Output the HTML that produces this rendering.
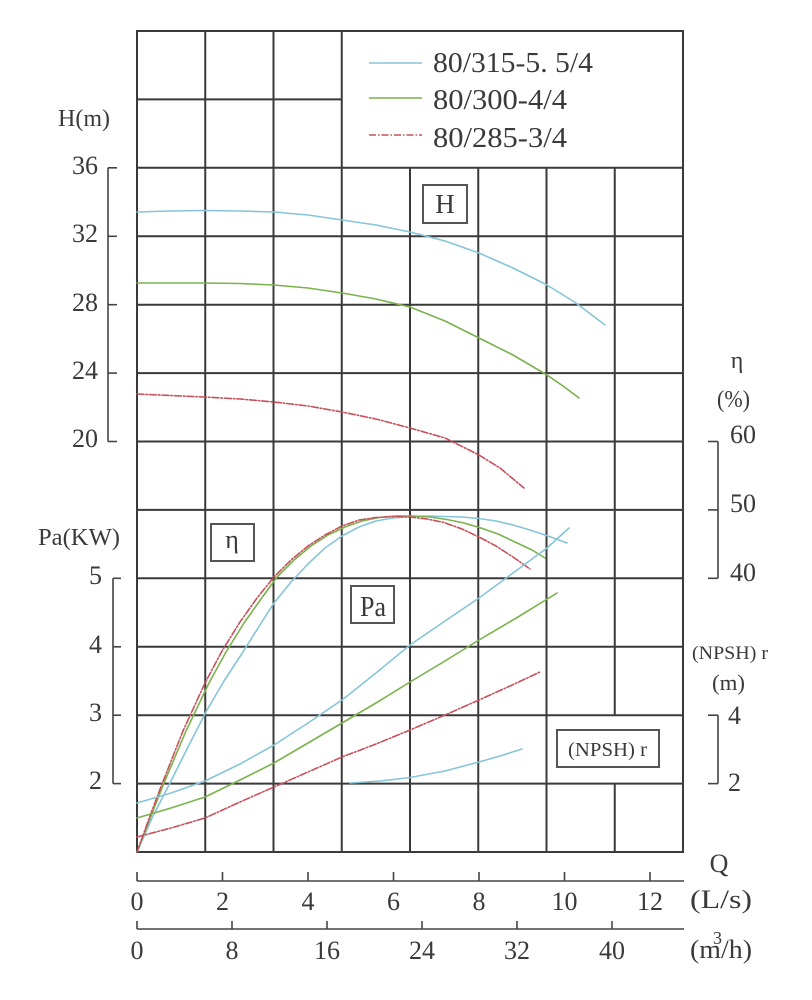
<!DOCTYPE html>
<html><head><meta charset="utf-8"><style>
html,body{margin:0;padding:0;background:#fff;}
svg{display:block;}
text{font-family:"Liberation Serif","Noto Serif CJK SC",serif;fill:#3a3a3a;}
</style></head><body>
<svg width="812" height="1000" viewBox="0 0 812 1000" xmlns="http://www.w3.org/2000/svg">
<rect x="0" y="0" width="812" height="1000" fill="#fff"/>
<g stroke="#3a3a3a" stroke-width="2" fill="none">
<rect x="137" y="31" width="546" height="821"/>
<line x1="137" y1="99.4" x2="341.75" y2="99.4"/>
<line x1="205.25" y1="31" x2="205.25" y2="852"/>
<line x1="273.5" y1="31" x2="273.5" y2="852"/>
<line x1="341.75" y1="31" x2="341.75" y2="852"/>
<line x1="410" y1="167.8" x2="410" y2="852"/>
<line x1="478.25" y1="167.8" x2="478.25" y2="852"/>
<line x1="546.5" y1="167.8" x2="546.5" y2="852"/>
<line x1="614.75" y1="167.8" x2="614.75" y2="715.2"/>
<line x1="614.75" y1="783.6" x2="614.75" y2="852"/>
<line x1="137" y1="167.8" x2="683" y2="167.8"/>
<line x1="137" y1="236.3" x2="683" y2="236.3"/>
<line x1="137" y1="304.7" x2="683" y2="304.7"/>
<line x1="137" y1="373.1" x2="683" y2="373.1"/>
<line x1="137" y1="441.5" x2="683" y2="441.5"/>
<line x1="137" y1="509.9" x2="683" y2="509.9"/>
<line x1="137" y1="578.3" x2="683" y2="578.3"/>
<line x1="137" y1="646.8" x2="683" y2="646.8"/>
<line x1="137" y1="715.2" x2="683" y2="715.2"/>
<line x1="137" y1="783.6" x2="683" y2="783.6"/>
</g>
<!-- left axes -->
<g stroke="#444" stroke-width="1.6" fill="none">
<line x1="108" y1="167.8" x2="108" y2="441.5"/>
<line x1="108" y1="167.8" x2="117" y2="167.8"/>
<line x1="108" y1="236.3" x2="117" y2="236.3"/>
<line x1="108" y1="304.7" x2="117" y2="304.7"/>
<line x1="108" y1="373.1" x2="117" y2="373.1"/>
<line x1="108" y1="441.5" x2="117" y2="441.5"/>
<line x1="113" y1="578.3" x2="113" y2="783.6"/>
<line x1="113" y1="578.3" x2="121" y2="578.3"/>
<line x1="113" y1="646.8" x2="121" y2="646.8"/>
<line x1="113" y1="715.2" x2="121" y2="715.2"/>
<line x1="113" y1="783.6" x2="121" y2="783.6"/>
<!-- right axes -->
<line x1="718" y1="441.5" x2="718" y2="578.3"/>
<line x1="708" y1="441.5" x2="718" y2="441.5"/>
<line x1="708" y1="509.9" x2="718" y2="509.9"/>
<line x1="708" y1="578.3" x2="718" y2="578.3"/>
<line x1="718" y1="715.2" x2="718" y2="783.6"/>
<line x1="708" y1="715.2" x2="718" y2="715.2"/>
<line x1="708" y1="783.6" x2="718" y2="783.6"/>
<!-- bottom axes -->
<line x1="137" y1="881" x2="684" y2="881"/>
<line x1="137" y1="872" x2="137" y2="881"/>
<line x1="222.5" y1="872" x2="222.5" y2="881"/>
<line x1="308" y1="872" x2="308" y2="881"/>
<line x1="393.5" y1="872" x2="393.5" y2="881"/>
<line x1="479" y1="872" x2="479" y2="881"/>
<line x1="564.5" y1="872" x2="564.5" y2="881"/>
<line x1="650" y1="872" x2="650" y2="881"/>
<line x1="137" y1="929" x2="684" y2="929"/>
<line x1="137" y1="921" x2="137" y2="929"/>
<line x1="232" y1="921" x2="232" y2="929"/>
<line x1="327" y1="921" x2="327" y2="929"/>
<line x1="422" y1="921" x2="422" y2="929"/>
<line x1="517" y1="921" x2="517" y2="929"/>
<line x1="612" y1="921" x2="612" y2="929"/>
</g>
<!-- boxes -->
<g stroke="#555" stroke-width="2" fill="#fff">
<rect x="423" y="185" width="44" height="38"/>
<rect x="211" y="524" width="43" height="37"/>
<rect x="351" y="586" width="43" height="37"/>
<rect x="557" y="730" width="102" height="37"/>
</g>
<!-- legend -->
<g stroke-width="1.6" fill="none">
<line x1="369" y1="63" x2="422" y2="63" stroke="#86c5d8"/>
<line x1="369" y1="98" x2="422" y2="98" stroke="#7ab24c"/>
<line x1="369" y1="135" x2="422" y2="135" stroke="#c8505a" stroke-dasharray="7 2 1.5 2"/>
</g>
<g font-size="28">
<text x="433" y="72" textLength="160" lengthAdjust="spacingAndGlyphs">80/315-5. 5/4</text>
<text x="433" y="109" textLength="134" lengthAdjust="spacingAndGlyphs">80/300-4/4</text>
<text x="433" y="147" textLength="134" lengthAdjust="spacingAndGlyphs">80/285-3/4</text>
</g>
<!-- curves -->
<g fill="none" stroke-width="1.6" stroke-linejoin="round" stroke-linecap="round">
<!-- H -->
<polyline stroke="#86c5d8" points="137,212 170,211 204,210.5 240,211 274,212 308,215 342,220 376,225 410,232 445,241 479,253 513,268 547,285 576,303 605,325"/>
<polyline stroke="#7ab24c" points="137,283 170,283 204,283 240,283.5 274,285 308,288 342,293 376,299 410,307 445,321 479,338 513,355 547,375 563,386 579,398"/>
<polyline stroke="#c8505a" stroke-dasharray="7 2 1.5 2" points="137,394 170,395.5 204,397 240,399 274,402 308,406 342,412 376,419 410,428 445,438 479,455 500,468 524,488"/>
<!-- eta -->
<polyline stroke="#86c5d8" points="137,852 152,818 170,783 189,745 207,710 224,681 241,655 258,628 274,603 291,582 308,564 325,548 342,536 359,527 376,521 393,518 410,516.5 427,516 445,516.5 462,517 479,518.5 496,521 513,525 530,530 548,536 567,543"/>
<polyline stroke="#7ab24c" points="137,852 151,816 164,783 186,731 209,683 226,652 244,623 261,599 277,577 294,560 311,546 328,535 345,527 362,521 379,517.5 396,516 413,516 430,517 447,519.5 464,523 481,528 498,534 515,542 532,550 545,558"/>
<polyline stroke="#c8505a" stroke-dasharray="7 2 1.5 2" points="137,852 150,816 162,784 183,731 205,683 222,651 240,622 257,598 274,577 291,560 308,546 325,535 342,526 359,520 376,517.5 393,516.5 410,517 427,519 444,522.5 462,529 479,537 496,546 513,557 530,569"/>
<!-- Pa -->
<polyline stroke="#86c5d8" points="137,803 171,793 205,781 240,764 274,745 308,723 342,700 376,673 410,645 445,621 479,598 513,573 547,548 569,528"/>
<polyline stroke="#7ab24c" points="137,818 171,808 205,797 240,780 274,763 308,743 342,723 376,703 410,682 445,661 479,640 518,617 557,593"/>
<polyline stroke="#c8505a" stroke-dasharray="7 2 1.5 2" points="137,837 171,828 205,818 240,802 274,787 308,772 342,757 376,744 410,730 445,715 479,700 510,686 540,672"/>
<!-- NPSH -->
<polyline stroke="#86c5d8" points="350,783 380,781 410,777.5 445,771 479,762 500,756 522,749"/>
</g>
<!-- axis labels -->
<g font-size="26" text-anchor="end">
<text x="98" y="174">36</text>
<text x="98" y="242">32</text>
<text x="98" y="311">28</text>
<text x="98" y="379">24</text>
<text x="98" y="447">20</text>
<text x="102" y="584">5</text>
<text x="102" y="653">4</text>
<text x="102" y="721">3</text>
<text x="102" y="789">2</text>
</g>
<text x="58" y="126" font-size="24" textLength="52" lengthAdjust="spacingAndGlyphs">H(m)</text>
<text x="38" y="545" font-size="24" textLength="82" lengthAdjust="spacingAndGlyphs">Pa(KW)</text>
<g font-size="26">
<text x="730" y="443">60</text>
<text x="730" y="512">50</text>
<text x="730" y="581">40</text>
<text x="728" y="724">4</text>
<text x="728" y="791">2</text>
</g>
<text x="737" y="368" font-size="24" text-anchor="middle">η</text>
<text x="717" y="407" font-size="24" textLength="33" lengthAdjust="spacingAndGlyphs">(%)</text>
<text x="692" y="659" font-size="19" textLength="76" lengthAdjust="spacingAndGlyphs">(NPSH) r</text>
<text x="712" y="690" font-size="22" textLength="33" lengthAdjust="spacingAndGlyphs">(m)</text>
<!-- box labels -->
<text x="445" y="213" font-size="27" text-anchor="middle">H</text>
<text x="232" y="548" font-size="26" text-anchor="middle">η</text>
<text x="360" y="616" font-size="28" textLength="26" lengthAdjust="spacingAndGlyphs">Pa</text>
<text x="568" y="756" font-size="20" textLength="79" lengthAdjust="spacingAndGlyphs">(NPSH) r</text>
<!-- bottom labels -->
<g font-size="26" text-anchor="middle">
<text x="137" y="910">0</text>
<text x="222.5" y="910">2</text>
<text x="308" y="910">4</text>
<text x="393.5" y="910">6</text>
<text x="479" y="910">8</text>
<text x="564.5" y="910">10</text>
<text x="650" y="910">12</text>
<text x="137" y="959">0</text>
<text x="232" y="959">8</text>
<text x="327" y="959">16</text>
<text x="422" y="959">24</text>
<text x="517" y="959">32</text>
<text x="612" y="959">40</text>
<text x="719" y="872">Q</text>
</g>
<text x="690" y="908" font-size="26" textLength="62" lengthAdjust="spacingAndGlyphs">(L/s)</text>
<text x="690" y="958" font-size="26" textLength="62" lengthAdjust="spacingAndGlyphs">(m/h)</text>
<text x="713" y="944" font-size="18">3</text>
</svg>
</body></html>
